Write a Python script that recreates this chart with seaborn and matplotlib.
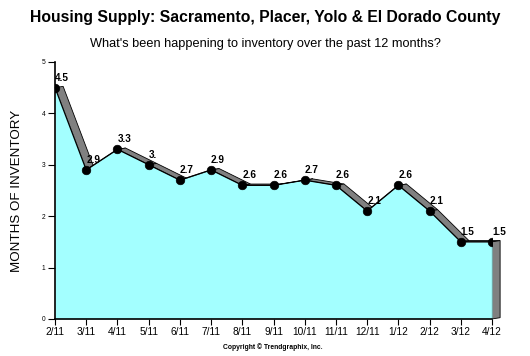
import numpy as np
import matplotlib
matplotlib.use('Agg')
import matplotlib.pyplot as plt
import seaborn as sns
from matplotlib.patches import Polygon

months = ['2/11', '3/11', '4/11', '5/11', '6/11', '7/11', '8/11', '9/11',
          '10/11', '11/11', '12/11', '1/12', '2/12', '3/12', '4/12']
inventory = [4.5, 2.9, 3.3, 3.0, 2.7, 2.9, 2.6, 2.6, 2.7, 2.6, 2.1, 2.6, 2.1, 1.5, 1.5]
point_labels = ['4.5', '2.9', '3.3', '3.', '2.7', '2.9', '2.6', '2.6', '2.7', '2.6',
                '2.1', '2.6', '2.1', '1.5', '1.5']

sns.set_style('white')
plt.rcParams['font.family'] = ['Liberation Sans', 'DejaVu Sans']
plt.rcParams['text.color'] = 'black'
plt.rcParams['axes.labelcolor'] = 'black'
plt.rcParams['xtick.color'] = 'black'
plt.rcParams['ytick.color'] = 'black'

fig = plt.figure(figsize=(5.3, 3.56), dpi=100)
ax = fig.add_axes([0.1038, 0.104, 0.8245, 0.722])

x = np.arange(len(months))
y = np.array(inventory)

# 3d depth offset (data units)
dx, dy = 0.26, 0.025

# top surface ribbons
for i in range(len(x) - 1):
    poly = Polygon([(x[i], y[i]), (x[i + 1], y[i + 1]),
                    (x[i + 1] + dx, y[i + 1] + dy), (x[i] + dx, y[i] + dy)],
                   closed=True, facecolor='#808080', edgecolor='black', lw=0.6,
                   zorder=1, clip_on=False)
    ax.add_patch(poly)

# right side face
side = Polygon([(x[-1], y[-1]), (x[-1] + dx, y[-1] + dy), (x[-1] + dx, dy), (x[-1], 0)],
               closed=True, facecolor='#808080', edgecolor='black', lw=0.6,
               zorder=1, clip_on=False)
ax.add_patch(side)

# front face
ax.fill_between(x, 0, y, color='#a3ffff', zorder=2, lw=0)
ax.plot([x[-1], x[-1]], [0, y[-1]], color='black', lw=0.8, zorder=3)

sns.lineplot(x=x, y=y, ax=ax, color='black', lw=0.9, zorder=4)
sns.scatterplot(x=x, y=y, ax=ax, color='black', s=38, edgecolor='black', zorder=5)

for xi, yi, lab in zip(x, y, point_labels):
    ax.annotate(lab, (xi, yi), xytext=(0, 3.5), textcoords='offset points',
                ha='left', va='bottom', fontsize=7.2, fontweight='bold', zorder=6)

ax.set_xlim(0, 14)
ax.set_ylim(0, 5)
ax.set_xticks(x)
ax.set_xticklabels(months, fontsize=7.3)
ax.set_yticks([0, 1, 2, 3, 4, 5])
ax.set_yticklabels(['0', '1', '2', '3', '4', '5'], fontsize=4.8)
ax.tick_params(axis='x', direction='out', length=4, width=0.8, pad=2, bottom=True)
ax.tick_params(axis='y', direction='out', length=5, width=0.8, pad=2, left=True)

for s in ['top', 'right']:
    ax.spines[s].set_visible(False)
for s in ['left', 'bottom']:
    ax.spines[s].set_color('black')
    ax.spines[s].set_linewidth(1.2)

ax.set_ylabel('MONTHS OF INVENTORY', fontsize=9.6, labelpad=13)
ax.set_xlabel('')

fig.text(0.5, 0.952, 'Housing Supply: Sacramento, Placer, Yolo & El Dorado County',
         ha='center', va='center', fontsize=11.3, fontweight='bold')
fig.text(0.5, 0.877, "What's been happening to inventory over the past 12 months?",
         ha='center', va='center', fontsize=9.2)
fig.text(0.515, 0.025, 'Copyright \u00a9 Trendgraphix, Inc.',
         ha='center', va='center', fontsize=4.9, fontweight='bold')

fig.savefig('out.png', dpi=100)
